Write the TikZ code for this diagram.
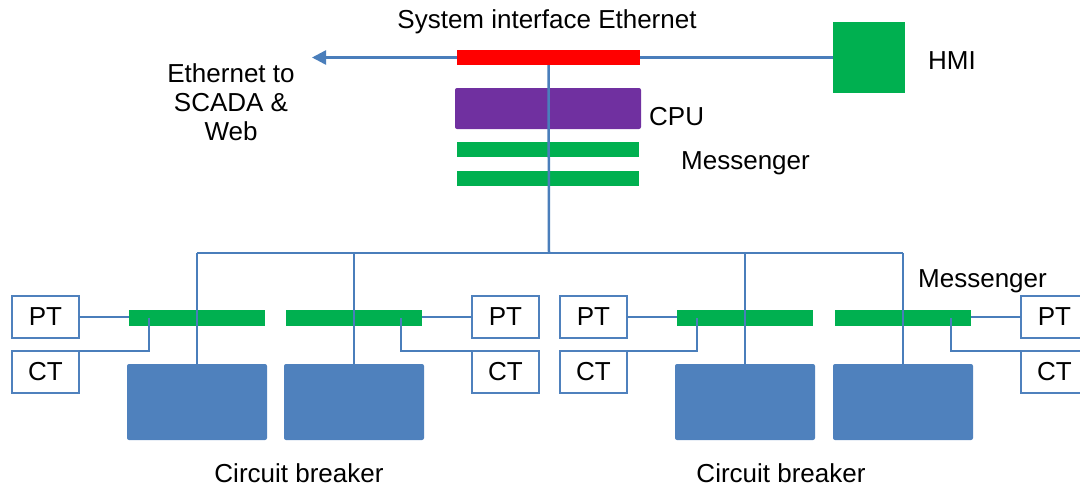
\documentclass[tikz,border=0pt]{standalone}
\usepackage{fontspec}
\setmainfont{Liberation Sans}
\usetikzlibrary{arrows.meta}
\definecolor{linkblue}{HTML}{4A7EBB}
\definecolor{cbblue}{HTML}{4F81BD}
\definecolor{msggreen}{HTML}{00B050}
\definecolor{cpupurple}{HTML}{7030A0}
\begin{document}
\begin{tikzpicture}[x=1pt,y=-1pt,
    txt/.style={font=\fontsize{26}{29}\selectfont, inner sep=0pt},
    ethbar/.style={fill=red, minimum width=183pt, minimum height=15pt, inner sep=0pt, outer sep=0pt},
    msgbar/.style={fill=msggreen, minimum width=182pt, minimum height=15pt, inner sep=0pt, outer sep=0pt},
    relaybar/.style={fill=msggreen, minimum width=136pt, minimum height=16pt, inner sep=0pt, outer sep=0pt},
    breaker/.style={fill=cbblue, rounded corners=2pt, minimum width=140pt, minimum height=76pt, inner sep=0pt, outer sep=0pt},
    sensor/.style={draw=cbblue, line width=1.2pt, minimum width=67pt, minimum height=42pt, inner sep=0pt, outer sep=0pt, font=\fontsize{26}{29}\selectfont},
    link/.style={draw=linkblue, line width=2.5pt}]

    \useasboundingbox (0,0) rectangle (1080,488);

    \node[ethbar] (eth) at (548.5,57.5) {};
    \node[fill=msggreen, minimum width=72pt, minimum height=71pt, inner sep=0pt] (hmi) at (869,57.5) {};
    \node[fill=cpupurple, rounded corners=2pt, minimum width=186pt, minimum height=41pt, inner sep=0pt] (cpu) at (548,108.5) {};
    \node[msgbar] (msga) at (548,149.5) {};
    \node[msgbar] (msgb) at (548,178.5) {};
    \coordinate (scada) at (312,57.5);
    \coordinate (bus) at (549,253);

    \node[txt] (ethlbl) at (547,22) {System interface Ethernet};
    \node[txt] (hmilbl) at (952,61) {HMI};
    \node[txt, align=center] (scadalbl) at (231,102) {Ethernet to\\SCADA \&\\Web};
    \node[txt, anchor=west] (cpulbl) at (649,117) {CPU};
    \node[txt, anchor=west] (msglbl) at (681,163) {Messenger};
    \node[txt, anchor=west] (msglbl2) at (918,281) {Messenger};

    \node[relaybar] (m1) at (197,318) {};
    \node[relaybar] (m2) at (354,318) {};
    \node[relaybar] (m3) at (745,318) {};
    \node[relaybar] (m4) at (903,318) {};

    \node[breaker] (cb1) at (197,402) {};
    \node[breaker] (cb2) at (354,402) {};
    \node[breaker] (cb3) at (745,402) {};
    \node[breaker] (cb4) at (903,402) {};

    \node[sensor] (pt1) at (45.5,317) {PT};
    \node[sensor] (ct1) at (45.5,372) {CT};
    \node[sensor] (pt2) at (505.5,317) {PT};
    \node[sensor] (ct2) at (505.5,372) {CT};
    \node[sensor] (pt3) at (593.5,317) {PT};
    \node[sensor] (ct3) at (593.5,372) {CT};
    \node[sensor] (pt4) at (1054.5,317) {PT};
    \node[sensor] (ct4) at (1054.5,372) {CT};

    \node[txt] (cblbl1) at (299,473) {Circuit breaker};
    \node[txt] (cblbl2) at (781,473) {Circuit breaker};

    \draw[link, -{Triangle[length=14pt,width=14pt]}] (eth.west) -- (scada);
    \draw[link] (eth.east) -- (hmi.west);
    \draw[link] (eth.south) -- (bus);
    \draw[link] (cb1.north |- bus) -- (cb4.north |- bus);

    \draw[link] (cb1.north) -- (cb1.north |- bus);
    \draw[link] (cb2.north) -- (cb2.north |- bus);
    \draw[link] (cb3.north) -- (cb3.north |- bus);
    \draw[link] (cb4.north) -- (cb4.north |- bus);

    \draw[link] (pt1.east) -- (m1.west |- pt1.east);
    \draw[link] (ct1.north east) -| ([xshift=20pt]m1.west);
    \draw[link] (pt2.west) -- (m2.east |- pt2.west);
    \draw[link] (ct2.north west) -| ([xshift=-21pt]m2.east);
    \draw[link] (pt3.east) -- (m3.west |- pt3.east);
    \draw[link] (ct3.north east) -| ([xshift=20pt]m3.west);
    \draw[link] (pt4.west) -- (m4.east |- pt4.west);
    \draw[link] (ct4.north west) -| ([xshift=-20pt]m4.east);

\end{tikzpicture}
\end{document}
